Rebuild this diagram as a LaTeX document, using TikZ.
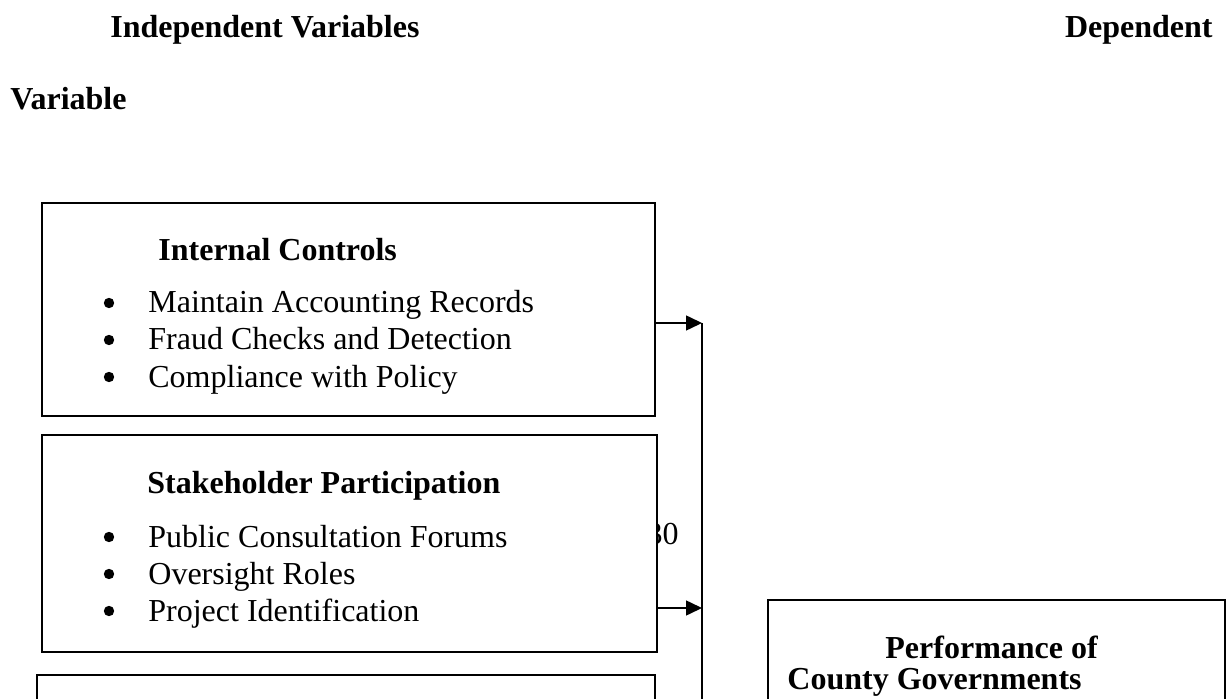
\documentclass[tikz,border=0pt]{standalone}
\usepackage{fontspec}
\setmainfont{Liberation Serif}
\usetikzlibrary{arrows.meta}

\tikzset{
  txt/.style={anchor=base west, inner sep=0pt, font=\fontsize{16}{19}\selectfont},
  head/.style={txt, font=\fontsize{16}{19}\selectfont\bfseries},
  box/.style={draw, line width=1pt, fill=white, inner sep=0pt},
  link/.style={line width=0.75pt, -{Triangle[length=8pt,width=7.5pt]}}
}

\begin{document}
\begin{tikzpicture}[x=0.5pt,y=-0.5pt]
	\useasboundingbox (0,0) rectangle (1229,699);
	\clip (0,0) rectangle (1229,699);

	% headings
	\node[head] (indep) at (110,38) {Independent Variables};
	\node[head, anchor=base east] (dep) at (1213,38) {Dependent};
	\node[head] (var) at (10,110) {Variable};

	% page number behind the second box
	\node[txt, anchor=base east] (pg) at (679,544) {30};

	% boxes
	\node[box, minimum width=306.5pt, minimum height=106.5pt] (ic) at (348.5,309.5) {};
	\node[box, minimum width=307.5pt, minimum height=108.5pt] (sp) at (349.5,543.5) {};
	\node[box, minimum width=309pt, minimum height=30pt] (third) at (346,705) {};
	\node[box, minimum width=228.5pt, minimum height=80pt] (perf) at (996.5,680) {};

	% internal controls
	\node[head] (ic-t) at (158,261) {Internal Controls};
	\fill (109,303) coordinate (ic-b1) circle (2.6pt);
	\fill (109,340) coordinate (ic-b2) circle (2.6pt);
	\fill (109,377) coordinate (ic-b3) circle (2.6pt);
	\node[txt] (ic-1) at (148,313) {Maintain Accounting Records};
	\node[txt] (ic-2) at (148,350) {Fraud Checks and Detection};
	\node[txt] (ic-3) at (148,387) {Compliance with Policy};

	% stakeholder participation
	\node[head] (sp-t) at (147,493) {Stakeholder Participation};
	\fill (109,537) coordinate (sp-b1) circle (2.6pt);
	\fill (109,574) coordinate (sp-b2) circle (2.6pt);
	\fill (109,611) coordinate (sp-b3) circle (2.6pt);
	\node[txt] (sp-1) at (148,547) {Public Consultation Forums};
	\node[txt] (sp-2) at (148,584) {Oversight Roles};
	\node[txt] (sp-3) at (148,621) {Project Identification};

	% dependent variable
	\node[head] (perf-t1) at (885,658) {Performance of};
	\node[head] (perf-t2) at (787,689) {County Governments};

	% connectors
	\coordinate (j1) at (702,323);
	\coordinate (j2) at (702,608);
	\coordinate (jb) at (702,720);
	\draw[link] (ic.east |- j1) -- (j1);
	\draw[link] (sp.east |- j2) -- (j2);
	\draw[line width=0.75pt] (j1) -- (jb);
\end{tikzpicture}
\end{document}
